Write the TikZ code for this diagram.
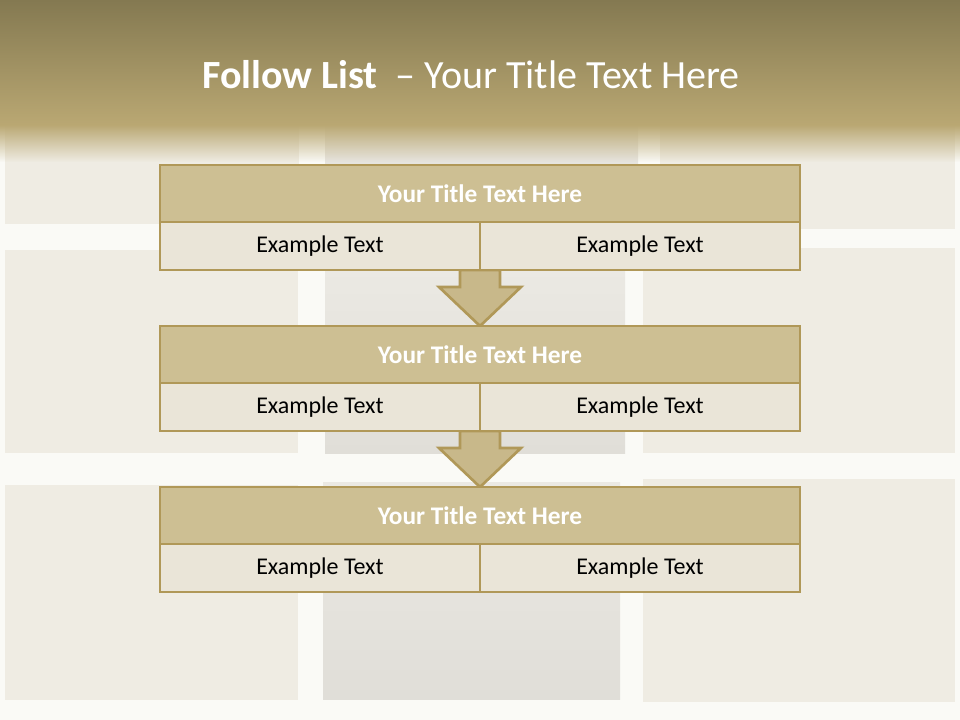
\documentclass[tikz,border=0pt]{standalone}
\usepackage{fontspec}
\setmainfont{Carlito}
\usetikzlibrary{positioning, calc, fadings}
\definecolor{headtop}{HTML}{847951}
\definecolor{headbot}{HTML}{BAA873}
\definecolor{paperbg}{HTML}{FAFAF6}
\definecolor{sheet}{HTML}{EFECE3}
\definecolor{sheetgrey}{HTML}{EBE9E3}
\definecolor{sheetedge}{HTML}{E0DED8}
\definecolor{frame}{HTML}{B09858}
\definecolor{titlefill}{HTML}{CDBF93}
\definecolor{cellfill}{HTML}{EAE5D8}
\definecolor{arrowfill}{HTML}{C8B88A}
\pgfdeclarelayer{paper}
\pgfdeclarelayer{arrowlayer}
\pgfsetlayers{paper,arrowlayer,main}

\begin{document}
\begin{tikzpicture}[
    x=0.75pt, y=-0.75pt,
    box/.style={rectangle, draw=frame, line width=2.2pt, outer sep=0pt, inner sep=0pt, text centered},
    titlebar/.style={box, fill=titlefill, minimum width=480pt, minimum height=42.75pt, text=white, font=\fontsize{19}{23}\selectfont\bfseries},
    cell/.style={box, fill=cellfill, minimum width=240pt, minimum height=36pt, font=\fontsize{18}{22}\selectfont},
    midsheet/.style={top color=sheetgrey, bottom color=sheetedge},
    downarr/.style={draw=frame, line width=2pt, fill=arrowfill, line join=miter}
]
    \useasboundingbox (0,0) rectangle (960,720);
    \begin{pgfonlayer}{paper}
        \fill[paperbg] (0,0) rectangle (960,720);
        \fill[sheet] (5,120) rectangle (299,224);
        \shade[midsheet] (325,120) rectangle (638,218);
        \fill[sheet] (660,120) rectangle (955,229);
        \fill[sheet] (5,250) rectangle (298,453);
        \shade[midsheet] (325,268) rectangle (625,453);
        \fill[sheet] (643,248) rectangle (955,453);
        \fill[sheet] (5,485) rectangle (298,700);
        \shade[midsheet] (323,482) rectangle (620,699);
        \fill[sheet] (643,479) rectangle (955,702);
        \shade[top color=headtop, bottom color=headbot] (0,0) rectangle (960,126);
        \fill[headbot, path fading=south] (0,125) rectangle (960,162);
    \end{pgfonlayer}

    \node[text=white, font=\fontsize{30}{36}\selectfont] (heading) at (471,75) {\textbf{Follow List}\ \ – Your Title Text Here};

    \node[titlebar] (t1) at (480,193.5) {Your Title Text Here};
    \node[cell, below right=0pt and 0pt of t1.south west] (c1l) {Example Text};
    \node[cell, right=0pt of c1l] (c1r) {Example Text};
    \node[titlebar, below=42pt of c1l.south east] (t2) {Your Title Text Here};
    \node[cell, below right=0pt and 0pt of t2.south west] (c2l) {Example Text};
    \node[cell, right=0pt of c2l] (c2r) {Example Text};
    \node[titlebar, below=42pt of c2l.south east] (t3) {Your Title Text Here};
    \node[cell, below right=0pt and 0pt of t3.south west] (c3l) {Example Text};
    \node[cell, right=0pt of c3l] (c3r) {Example Text};

    \begin{pgfonlayer}{arrowlayer}
        \draw[downarr] ($(c1l.south east)+(-20,0)$) -- ++(0,17) -- ++(-21,0) -- (t2.north) -- ($(c1l.south east)+(41,17)$) -- ++(-21,0) -- ++(0,-17) -- cycle;
        \draw[downarr] ($(c2l.south east)+(-20,0)$) -- ++(0,17) -- ++(-21,0) -- (t3.north) -- ($(c2l.south east)+(41,17)$) -- ++(-21,0) -- ++(0,-17) -- cycle;
    \end{pgfonlayer}
\end{tikzpicture}
\end{document}
